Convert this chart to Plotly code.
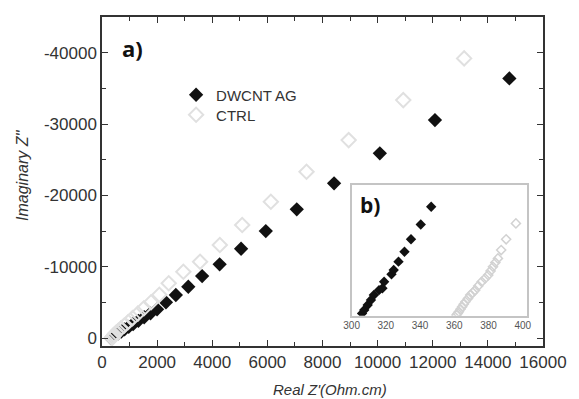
import plotly.graph_objects as go

# ---- main plot data (Real Z', Imaginary Z'') ----
dw_x = [320, 365, 425, 500, 590, 700, 820, 970, 1130, 1320, 1530, 1760,
        1998, 2320, 2679, 3131, 3633, 4268, 5046, 5943, 7066, 8420, 10080, 12080, 14780]
dw_y = [-40, -150, -300, -480, -700, -950, -1250, -1600, -2000, -2450, -2950, -3500,
        -4060, -5040, -6060, -7220, -8720, -10360, -12540, -15020, -18060, -21700, -25900, -30560, -36400]

ctrl_x = [365, 380, 410, 450, 510, 590, 690, 810, 950, 1110, 1300, 1520, 1780, 2080,
          2421, 2952, 3558, 4275, 5086, 6126, 7420, 8950, 10930, 13139]
ctrl_y = [-40, -160, -330, -520, -760, -1050, -1400, -1800, -2280, -2820, -3450, -4200, -5050, -6100,
          -7700, -9320, -10720, -13060, -15860, -19120, -23320, -27760, -33360, -39200]

# ---- inset data ----
in_dw_x = [306.1, 307.4, 309.4, 311.3, 313.0, 316.0, 318.0, 319.0, 323.3, 324.6, 327.4, 330.9, 334.7, 340.4, 346.5]
in_dw_y = [-1.8, -4.4, -8.2, -12.1, -15.9, -19.6, -21.0, -26.0, -31.7, -35.0, -41.4, -49.0, -58.5, -69.9, -83.4]

in_ctrl_x = [361.3, 362.0, 362.7, 363.6, 364.6, 365.5, 366.5, 368.0, 369.3, 370.8, 372.2, 374.0, 376.0,
             378.0, 379.8, 381.2, 382.6, 384.0, 385.5, 387.4, 390.3, 396.0]
in_ctrl_y = [-0.5, -1.8, -3.1, -5.0, -6.9, -8.8, -10.7, -13.2, -15.8, -17.7, -19.6, -22.8, -26.0,
             -28.5, -31.1, -34.3, -37.5, -40.7, -43.9, -50.3, -58.5, -70.7]

x_ticks = [0, 2000, 4000, 6000, 8000, 10000, 12000, 14000, 16000]
x_labels = ["0", "2000", "4000", "6000", "8000", "10000", "12000", "14000", "16000"]
y_ticks = [0, -10000, -20000, -30000, -40000]
y_labels = ["0", "-10000", "-20000", "-30000", "-40000"]
inset_ticks = [300, 320, 340, 360, 380, 400]

FONT = "Liberation Sans, Arial, sans-serif"
AX = "#333333"
CTRL_C = "#e0e0e0"

fig = go.Figure()

fig.add_trace(go.Scatter(x=dw_x, y=dw_y, mode="markers", name="DWCNT AG", legend="legend",
                         marker=dict(symbol="diamond", size=11, color="#111111"),
                         xaxis="x", yaxis="y"))
fig.add_trace(go.Scatter(x=ctrl_x, y=ctrl_y, mode="markers", name="CTRL", legend="legend2",
                         marker=dict(symbol="diamond-open", size=11, color=CTRL_C,
                                     line=dict(width=2, color=CTRL_C)),
                         xaxis="x", yaxis="y"))

fig.add_trace(go.Scatter(x=in_dw_x, y=in_dw_y, mode="markers", showlegend=False,
                         marker=dict(symbol="diamond", size=8, color="#111111"),
                         xaxis="x2", yaxis="y2"))
fig.add_trace(go.Scatter(x=in_ctrl_x, y=in_ctrl_y, mode="markers", showlegend=False,
                         marker=dict(symbol="diamond-open", size=7, color="#d2d2d2",
                                     line=dict(width=1.5, color="#d2d2d2")),
                         xaxis="x2", yaxis="y2"))

axis_common = dict(showline=True, linecolor=AX, linewidth=1.5, mirror="ticks",
                   ticks="inside", ticklen=6, tickwidth=1.2, tickcolor=AX,
                   showgrid=False, zeroline=False,
                   tickfont=dict(family=FONT, size=17, color=AX))

legend_common = dict(xanchor="left", yanchor="middle", bgcolor="rgba(0,0,0,0)",
                     borderwidth=0, font=dict(family=FONT, size=15, color="#333333"))

fig.update_layout(
    width=579, height=399,
    margin=dict(l=102, r=30, t=17, b=53),
    paper_bgcolor="white", plot_bgcolor="white",
    xaxis=dict(range=[0, 16000], tickvals=x_ticks, ticktext=x_labels,
               minor=dict(dtick=1000, ticks="inside", ticklen=4, tickcolor=AX),
               **axis_common),
    yaxis=dict(range=[1080, -45000], tickvals=y_ticks, ticktext=y_labels,
               minor=dict(dtick=5000, tick0=0, ticks="inside", ticklen=4, tickcolor=AX),
               **axis_common),
    xaxis2=dict(domain=[0.566, 0.963], anchor="y2", range=[300, 402.3],
                tickvals=inset_ticks, ticks="", showline=True, mirror=True,
                linecolor="#c4c4c4", linewidth=1.5, showgrid=False, zeroline=False,
                tickfont=dict(family=FONT, size=10, color="#555555")),
    yaxis2=dict(domain=[0.092, 0.489], anchor="x2", range=[0, -100],
                showticklabels=False, ticks="", showline=True, mirror=True,
                linecolor="#c4c4c4", linewidth=1.5, showgrid=False, zeroline=False),
    legend=dict(x=0.168, y=(346 - 95) / 329, **legend_common),
    legend2=dict(x=0.168, y=(346 - 115) / 329, **legend_common),
    showlegend=True,
)

fig.add_annotation(text="a)", xref="paper", yref="paper", x=0.04, y=0.905,
                   xanchor="left", yanchor="middle", showarrow=False,
                   font=dict(family="Open Sans, sans-serif", size=22, color="#111111", weight="bold"))
fig.add_annotation(text="b)", xref="paper", yref="paper", x=0.58, y=0.43,
                   xanchor="left", yanchor="middle", showarrow=False,
                   font=dict(family="Open Sans, sans-serif", size=21, color="#111111", weight="bold"))
fig.add_annotation(text="<i>Imaginary Z''</i>", xref="paper", yref="paper", x=-0.179, y=0.52,
                   textangle=-90, showarrow=False, xanchor="center", yanchor="middle",
                   font=dict(family=FONT, size=16, color="#333333"))
fig.add_annotation(text="<i>Real Z'(Ohm.cm)</i>", xref="paper", yref="paper", x=0.518, y=-0.131,
                   showarrow=False, xanchor="center", yanchor="middle",
                   font=dict(family=FONT, size=15, color="#333333"))

fig.write_html("out.html", config={"displayModeBar": False},
               post_script="document.body.style.margin='0';document.body.style.overflow='hidden';")
